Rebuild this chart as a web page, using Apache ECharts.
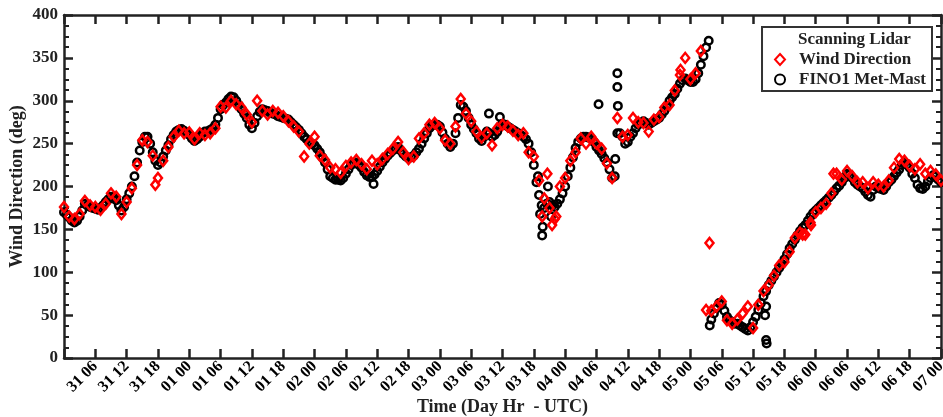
<!DOCTYPE html>
<html>
<head>
<meta charset="utf-8">
<script src="https://cdn.jsdelivr.net/npm/echarts@6/dist/echarts.min.js"></script>
<style>
  html, body { margin: 0; padding: 0; background: #fff; }
  #chart { width: 943px; height: 417px; }
</style>
</head>
<body>
<div id="chart"></div>
<script>
// Time axis runs in hours from 31 00 UTC to 07 00 UTC (168 h)
const tickLabels = [
  '31 06','31 12','31 18','01 00','01 06','01 12','01 18','02 00','02 06','02 12',
  '02 18','03 00','03 06','03 12','03 18','04 00','04 06','04 12','04 18','05 00',
  '05 06','05 12','05 18','06 00','06 06','06 12','06 18','07 00'
];

// FINO1 met-mast wind direction (deg), every 0.5 h from 31 00
const mastStep = 0.5;
const mastDir = [
  170,167,164,160,158,160,165,172,180,178,176,175,
  174,173,175,178,182,185,188,187,184,178,172,176,
  185,192,200,212,228,242,252,258,258,250,240,230,
  225,228,235,242,248,255,260,264,266,267,265,262,
  260,256,253,255,258,262,264,264,266,268,272,280,
  290,295,298,302,305,304,300,295,290,285,280,272,
  268,274,282,287,290,289,288,286,285,284,282,281,
  280,279,278,275,272,269,266,262,258,255,252,250,
  248,244,240,234,228,220,212,210,208,208,207,210,
  215,220,225,227,228,225,222,217,213,211,211,214,
  218,223,228,232,236,239,242,244,246,242,238,235,
  233,234,236,240,244,250,256,262,268,271,272,272,
  270,263,256,250,246,250,262,280,295,293,288,280,
  272,267,262,256,253,258,264,262,258,260,264,270,
  273,272,270,268,266,264,262,260,258,255,250,240,
  225,205,190,178,175,180,182,178,176,180,185,192,
  200,212,222,234,245,252,256,258,258,257,256,252,
  246,242,238,233,228,220,210,212,262,262,258,250,
  252,258,262,268,272,274,276,274,272,274,276,278,
  280,284,288,294,300,304,308,314,320,324,326,324,
  322,322,325,332,342,352,362,370,45,52,58,64,
  62,55,48,44,42,40,40,38,36,34,32,36,
  42,48,56,64,72,78,85,90,95,100,105,110,
  115,121,128,133,138,143,148,152,155,160,165,169,
  172,175,178,181,184,187,190,194,198,201,205,210,
  215,214,210,205,202,200,198,194,190,188,196,200,
  198,197,196,200,205,208,212,216,220,225,228,226,
  222,215,210,202,198,197,200,206,210,213,212,208,
  205
];
// Isolated mast readings [hour, deg]
const mastOutliers = [
  [59.3, 203], [81.4, 285], [83.5, 281], [90.8, 212], [91.2, 168],
  [91.6, 143], [91.7, 153], [92.7, 200], [93.3, 165], [102.4, 296],
  [105.6, 232], [106.0, 332], [106.0, 316], [106.1, 294], [123.7, 38],
  [134.3, 50], [134.5, 60], [134.5, 21], [134.6, 17]
];

// Scanning lidar wind direction (deg), hourly from 31 00
const lidarStep = 1;
const lidarDir = [
  176,165,162,168,183,178,176,173,180,192,188,168,
  182,198,225,254,252,236,210,230,246,258,265,262,
  263,255,262,260,262,268,293,292,300,296,292,284,
  275,300,288,284,288,286,282,276,270,264,235,250,
  258,236,231,222,220,216,224,228,231,226,220,230,
  226,232,238,244,252,240,232,235,256,262,272,274,
  268,254,250,270,302,285,276,264,257,262,248,268,
  272,270,265,260,262,240,235,207,186,175,162,200,
  210,230,240,256,250,258,250,244,227,210,280,258,
  260,280,275,274,264,278,281,292,295,312,330,350,
  325,332,358,56,55,60,66,44,40,45,52,60,
  35,62,78,85,96,108,112,124,140,146,144,158,
  170,175,180,192,215,208,218,212,205,205,198,205,
  202,200,207,222,232,230,224,220,226,215,218,214,
  207
];
// Isolated lidar readings [hour, deg]
const lidarOutliers = [
  [17.5, 202], [91.6, 165], [92.6, 215], [93.5, 155], [94.3, 165],
  [118.1, 336], [123.65, 134], [141.5, 144], [143.1, 155], [147.4, 215]
];

const FONT = "'Liberation Serif', 'Times New Roman', serif";
const INK = '#222';

const mastData = mastDir.map((d, i) => [i * mastStep, d]).concat(mastOutliers);
const lidarData = lidarDir.map((d, i) => [i * lidarStep, d]).concat(lidarOutliers);

function hourLabel(v) {
  const k = Math.round(v / 6);
  return k >= 1 ? tickLabels[k - 1] : '';
}

const axisLine = { show: true, onZero: false, lineStyle: { color: INK, width: 2.5 } };
const majorTick = { inside: true, length: 9, lineStyle: { color: INK, width: 2.5 } };
const minorTick = { show: true, splitNumber: 4, length: 5, lineStyle: { color: INK, width: 2 } };

const chart = echarts.init(document.getElementById('chart'), null, { renderer: 'canvas' });
chart.setOption({
  animation: false,
  backgroundColor: '#fff',
  grid: { left: 64, right: 2, top: 15, bottom: 59, containLabel: false, outerBoundsMode: 'none' },
  xAxis: [
    {
      type: 'value', min: 0, max: 168, interval: 6, position: 'bottom',
      name: 'Time (Day Hr  - UTC)', nameLocation: 'middle', nameGap: 40, nameMoveOverlap: false,
      nameTextStyle: { fontFamily: FONT, fontWeight: 'bold', fontSize: 18, color: INK },
      axisLine: axisLine, axisTick: majorTick,
      axisLabel: {
        rotate: 45, margin: 6, formatter: hourLabel, hideOverlap: false,
        fontFamily: FONT, fontWeight: 'bold', fontSize: 16, color: '#000'
      },
      splitLine: { show: false }
    },
    {
      type: 'value', min: 0, max: 168, interval: 6, position: 'top',
      axisLine: axisLine, axisTick: majorTick,
      axisLabel: { show: false },
      splitLine: { show: false }
    }
  ],
  yAxis: [
    {
      type: 'value', min: 0, max: 400, interval: 50, position: 'left',
      name: 'Wind Direction (deg)', nameLocation: 'middle', nameGap: 38, nameMoveOverlap: false,
      nameTextStyle: { fontFamily: FONT, fontWeight: 'bold', fontSize: 18, color: INK },
      axisLine: axisLine, axisTick: majorTick, minorTick: minorTick,
      axisLabel: { margin: 6, fontFamily: FONT, fontWeight: 'bold', fontSize: 17, color: INK },
      splitLine: { show: false }, minorSplitLine: { show: false }
    },
    {
      type: 'value', min: 0, max: 400, interval: 50, position: 'right',
      axisLine: axisLine, axisTick: majorTick, minorTick: minorTick,
      axisLabel: { show: false },
      splitLine: { show: false }, minorSplitLine: { show: false }
    }
  ],
  legend: {
    data: ['Wind Direction', 'FINO1 Met-Mast'],
    orient: 'vertical', right: 11, top: 27,
    padding: [24, 6, 3, 12], itemGap: 3, itemWidth: 10, itemHeight: 11,
    backgroundColor: '#fff', borderColor: '#333', borderWidth: 2, borderRadius: 0,
    textStyle: { fontFamily: FONT, fontWeight: 'bold', fontSize: 17, color: INK, padding: [0, 0, 0, 9] }
  },
  graphic: [{
    type: 'text', z: 100, left: 798, top: 31,
    style: { text: 'Scanning Lidar', font: "bold 17px " + FONT, fill: INK }
  }],
  series: [
    {
      name: 'FINO1 Met-Mast', type: 'scatter', xAxisIndex: 0, yAxisIndex: 0,
      symbol: 'circle', symbolSize: 7.5, z: 2,
      itemStyle: { color: 'rgba(0,0,0,0)', borderColor: '#000', borderWidth: 2.5, opacity: 1 },
      data: mastData
    },
    {
      name: 'Wind Direction', type: 'scatter', xAxisIndex: 0, yAxisIndex: 0,
      symbol: 'diamond', symbolSize: [8, 10], z: 3,
      itemStyle: { color: 'rgba(0,0,0,0)', borderColor: '#ff0000', borderWidth: 2.5, opacity: 1 },
      data: lidarData
    }
  ]
});
</script>
</body>
</html>
